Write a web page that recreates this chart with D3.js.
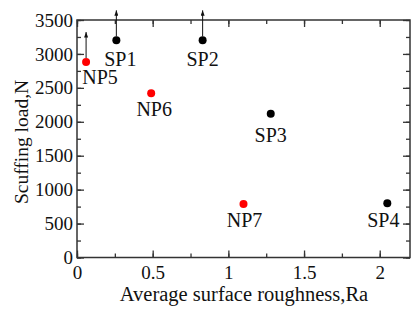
<!DOCTYPE html>
<html>
<head>
<meta charset="utf-8">
<script src="https://cdn.jsdelivr.net/npm/d3@7"></script>
<style>
  body { margin: 0; background: #fff; }
  svg text { font-family: "Liberation Serif", "Times New Roman", serif; fill: #111; }
</style>
</head>
<body>
<div id="graphic"></div>
<script>
// data
var names     = ["NP5", "SP1", "SP2", "NP6", "SP3", "NP7", "SP4"];
var roughness = [0.06, 0.26, 0.83, 0.49, 1.28, 1.10, 2.05];
var loads     = [2880, 3200, 3200, 2420, 2120, 790, 800];
var groups    = ["NP", "SP", "SP", "NP", "SP", "NP", "SP"];
var lowerBound = [true, true, true, false, false, false, false];   // arrow = no scuffing reached

var xTicks = [0, 0.5, 1, 1.5, 2];
var yTicks = [0, 500, 1000, 1500, 2000, 2500, 3000, 3500];

// label placement (dx, dy from point)
var labelOffset = {
  NP5: [14, 22], SP1: [4, 26], SP2: [0, 26], NP6: [3, 23],
  SP3: [0, 28], NP7: [1, 23], SP4: [-4, 24]
};

var W = 419, H = 310;
var margin = {top: 20, right: 9, bottom: 52.5, left: 77};

var svg = d3.select("#graphic").append("svg")
        .attr("width", W)
        .attr("height", H);

var x = d3.scaleLinear()
        .domain([0, 2.2])
        .range([margin.left, W - margin.right]);

var y = d3.scaleLinear()
        .domain([0, 3500])
        .range([H - margin.bottom, margin.top]);

var minorX = d3.range(0, 2.21, 0.25);
var minorY = d3.range(0, 3501, 250);

function clean(g) {
  g.select(".domain").remove();
  g.selectAll(".tick line").attr("stroke", "#333").attr("stroke-width", 1.3);
}

// bottom axis
svg.append("g")
        .attr("transform", "translate(0," + y.range()[0] + ")")
        .call(d3.axisBottom(x).tickValues(minorX).tickSize(-4).tickFormat(""))
        .call(clean);
svg.append("g")
        .attr("transform", "translate(0," + y.range()[0] + ")")
        .call(d3.axisBottom(x).tickValues(xTicks).tickSize(-7).tickPadding(8).tickFormat(d3.format("")))
        .call(clean)
        .selectAll("text").style("font-size", "19px");

// top axis
svg.append("g")
        .attr("transform", "translate(0," + y.range()[1] + ")")
        .call(d3.axisTop(x).tickValues(minorX).tickSize(-4).tickFormat(""))
        .call(clean);
svg.append("g")
        .attr("transform", "translate(0," + y.range()[1] + ")")
        .call(d3.axisTop(x).tickValues(xTicks).tickSize(-7).tickFormat(""))
        .call(clean);

// left axis
svg.append("g")
        .attr("transform", "translate(" + x.range()[0] + ",0)")
        .call(d3.axisLeft(y).tickValues(minorY).tickSize(-4).tickFormat(""))
        .call(clean);
svg.append("g")
        .attr("transform", "translate(" + x.range()[0] + ",0)")
        .call(d3.axisLeft(y).tickValues(yTicks).tickSize(-7).tickPadding(4).tickFormat(d3.format("")))
        .call(clean)
        .selectAll("text").style("font-size", "19px");

// right axis
svg.append("g")
        .attr("transform", "translate(" + x.range()[1] + ",0)")
        .call(d3.axisRight(y).tickValues(minorY).tickSize(-4).tickFormat(""))
        .call(clean);
svg.append("g")
        .attr("transform", "translate(" + x.range()[1] + ",0)")
        .call(d3.axisRight(y).tickValues(yTicks).tickSize(-7).tickFormat(""))
        .call(clean);

// frame
svg.append("rect")
        .attr("x", x.range()[0])
        .attr("y", y.range()[1])
        .attr("width", x.range()[1] - x.range()[0])
        .attr("height", y.range()[0] - y.range()[1])
        .attr("fill", "none")
        .attr("stroke", "#333")
        .attr("stroke-width", 1.5);

// arrowhead
svg.append("defs").append("marker")
        .attr("id", "arrow")
        .attr("viewBox", "0 0 6 8")
        .attr("refX", 3)
        .attr("refY", 0)
        .attr("markerWidth", 4)
        .attr("markerHeight", 6)
        .attr("markerUnits", "userSpaceOnUse")
        .attr("orient", "0")
        .append("path")
        .attr("d", "M0,8 L3,0 L6,8 Z")
        .attr("fill", "#111");

var points = names.map(function(n, i) {
  return {name: n, x: roughness[i], y: loads[i], group: groups[i], arrow: lowerBound[i]};
});

svg.selectAll(".arr")
        .data(points.filter(function(d) { return d.arrow; }))
        .enter().append("line")
        .attr("class", "arr")
        .attr("x1", function(d) { return x(d.x); })
        .attr("x2", function(d) { return x(d.x); })
        .attr("y1", function(d) { return y(d.y) - 4; })
        .attr("y2", function(d) { return y(d.y) - 30; })
        .attr("stroke", "#111")
        .attr("stroke-width", 1)
        .attr("marker-end", "url(#arrow)");

svg.selectAll(".pt")
        .data(points)
        .enter().append("circle")
        .attr("class", "pt")
        .attr("cx", function(d) { return x(d.x); })
        .attr("cy", function(d) { return y(d.y); })
        .attr("r", 4)
        .attr("fill", function(d) { return d.group === "NP" ? "#ff0000" : "#000"; });

svg.selectAll(".lbl")
        .data(points)
        .enter().append("text")
        .attr("class", "lbl")
        .attr("x", function(d) { return x(d.x) + labelOffset[d.name][0]; })
        .attr("y", function(d) { return y(d.y) + labelOffset[d.name][1]; })
        .attr("text-anchor", "middle")
        .style("font-size", "20px")
        .text(function(d) { return d.name; });

// axis titles
svg.append("text")
        .attr("x", 244)
        .attr("y", 301)
        .attr("text-anchor", "middle")
        .style("font-size", "20.5px")
        .text("Average surface roughness,Ra");

svg.append("text")
        .attr("transform", "translate(28,142) rotate(-90)")
        .attr("text-anchor", "middle")
        .style("font-size", "19.5px")
        .text("Scuffing load,N");
</script>
</body>
</html>
